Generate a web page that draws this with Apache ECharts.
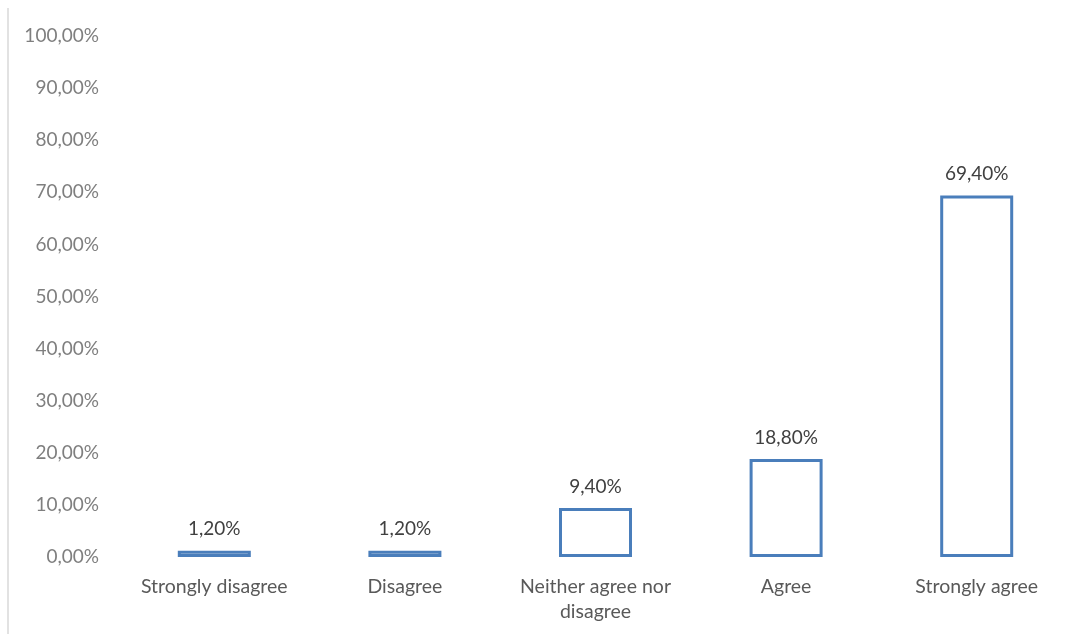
<!DOCTYPE html>
<html><head><meta charset="utf-8">
<script src="https://cdn.jsdelivr.net/npm/echarts@6/dist/echarts.min.js"></script>
<style>html,body{margin:0;padding:0;background:#fff}#c{width:1091px;height:634px}</style>
</head><body><div id="c"></div>
<script>
const categories = ['Strongly disagree', 'Disagree', 'Neither agree nor\ndisagree', 'Agree', 'Strongly agree'];
const values = [1.2, 1.2, 9.4, 18.8, 69.4];
const yMin = 0, yMax = 100, yStep = 10;

const fmt = v => v.toFixed(2).replace('.', ',') + '%';
const chart = echarts.init(document.getElementById('c'));
chart.setOption({
  animation: false,
  backgroundColor: '#fff',
  grid: { left: 119, right: 19, top: 36, bottom: 77 },
  xAxis: {
    type: 'category', data: categories,
    axisLine: { show: false }, axisTick: { show: false },
    axisLabel: { interval: 0, color: '#595959', fontFamily: 'Lato', fontSize: 19.5, margin: 17, lineHeight: 25 }
  },
  yAxis: {
    type: 'value', min: yMin, max: yMax, interval: yStep,
    splitLine: { show: false }, axisLine: { show: false }, axisTick: { show: false },
    axisLabel: { color: '#7f7f7f', fontFamily: 'Lato', fontSize: 19, margin: 20, formatter: v => fmt(v) }
  },
  graphic: [{ type: 'line', shape: { x1: 8, y1: 8, x2: 8, y2: 634 }, style: { stroke: '#d9d9d9', lineWidth: 1.5 } }],
  series: [{
    type: 'bar', data: values, barWidth: 73,
    itemStyle: { color: '#fff', borderColor: '#4a7ebb', borderWidth: 3 },
    label: { show: true, position: 'top', distance: 12, color: '#404040', fontFamily: 'Lato', fontSize: 19, formatter: p => fmt(p.value) }
  }]
});
</script></body></html>
